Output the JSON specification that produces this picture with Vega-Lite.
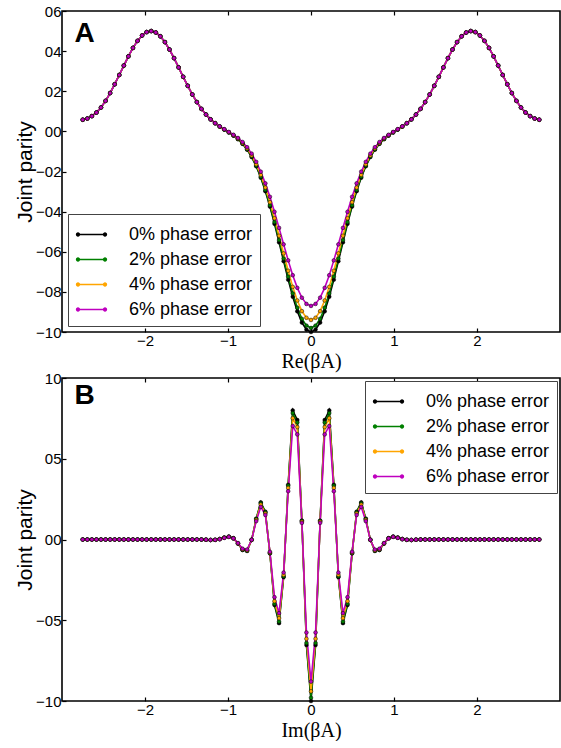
{
  "$schema": "https://vega.github.io/schema/vega-lite/v6.json",
  "background": "white",
  "padding": {"left": 13, "top": 3, "right": 0, "bottom": 0},
  "autosize": {"type": "pad"},
  "bounds": "flush",
  "spacing": 46,
  "resolve": {"legend": {"color": "independent"}},
  "datasets": {
    "A": [
      {"x":-2.75,"p0":0.058,"p2":0.058,"p4":0.058,"p6":0.058},
      {"x":-2.695,"p0":0.064,"p2":0.064,"p4":0.064,"p6":0.064},
      {"x":-2.64,"p0":0.076,"p2":0.076,"p4":0.076,"p6":0.076},
      {"x":-2.585,"p0":0.094,"p2":0.094,"p4":0.094,"p6":0.094},
      {"x":-2.53,"p0":0.119,"p2":0.119,"p4":0.119,"p6":0.119},
      {"x":-2.475,"p0":0.152,"p2":0.152,"p4":0.152,"p6":0.152},
      {"x":-2.42,"p0":0.191,"p2":0.191,"p4":0.191,"p6":0.191},
      {"x":-2.365,"p0":0.235,"p2":0.235,"p4":0.235,"p6":0.235},
      {"x":-2.31,"p0":0.281,"p2":0.281,"p4":0.281,"p6":0.281},
      {"x":-2.255,"p0":0.328,"p2":0.328,"p4":0.328,"p6":0.328},
      {"x":-2.2,"p0":0.374,"p2":0.374,"p4":0.374,"p6":0.374},
      {"x":-2.145,"p0":0.416,"p2":0.416,"p4":0.416,"p6":0.416},
      {"x":-2.09,"p0":0.451,"p2":0.451,"p4":0.451,"p6":0.451},
      {"x":-2.035,"p0":0.478,"p2":0.478,"p4":0.478,"p6":0.478},
      {"x":-1.98,"p0":0.495,"p2":0.495,"p4":0.495,"p6":0.495},
      {"x":-1.925,"p0":0.5,"p2":0.5,"p4":0.5,"p6":0.5},
      {"x":-1.87,"p0":0.493,"p2":0.493,"p4":0.493,"p6":0.493},
      {"x":-1.815,"p0":0.474,"p2":0.474,"p4":0.474,"p6":0.474},
      {"x":-1.76,"p0":0.445,"p2":0.445,"p4":0.445,"p6":0.445},
      {"x":-1.705,"p0":0.408,"p2":0.408,"p4":0.408,"p6":0.408},
      {"x":-1.65,"p0":0.365,"p2":0.365,"p4":0.365,"p6":0.365},
      {"x":-1.595,"p0":0.319,"p2":0.319,"p4":0.319,"p6":0.319},
      {"x":-1.54,"p0":0.272,"p2":0.272,"p4":0.272,"p6":0.272},
      {"x":-1.485,"p0":0.227,"p2":0.227,"p4":0.227,"p6":0.227},
      {"x":-1.43,"p0":0.184,"p2":0.184,"p4":0.184,"p6":0.184},
      {"x":-1.375,"p0":0.146,"p2":0.146,"p4":0.146,"p6":0.146},
      {"x":-1.32,"p0":0.112,"p2":0.112,"p4":0.112,"p6":0.112},
      {"x":-1.265,"p0":0.084,"p2":0.084,"p4":0.084,"p6":0.084},
      {"x":-1.21,"p0":0.06,"p2":0.06,"p4":0.06,"p6":0.06},
      {"x":-1.155,"p0":0.04,"p2":0.041,"p4":0.041,"p6":0.041},
      {"x":-1.1,"p0":0.024,"p2":0.024,"p4":0.024,"p6":0.025},
      {"x":-1.045,"p0":0.009,"p2":0.009,"p4":0.01,"p6":0.011},
      {"x":-0.99,"p0":-0.005,"p2":-0.005,"p4":-0.004,"p6":-0.003},
      {"x":-0.935,"p0":-0.021,"p2":-0.02,"p4":-0.019,"p6":-0.017},
      {"x":-0.88,"p0":-0.039,"p2":-0.038,"p4":-0.036,"p6":-0.033},
      {"x":-0.825,"p0":-0.062,"p2":-0.061,"p4":-0.058,"p6":-0.053},
      {"x":-0.77,"p0":-0.091,"p2":-0.089,"p4":-0.085,"p6":-0.079},
      {"x":-0.715,"p0":-0.128,"p2":-0.125,"p4":-0.12,"p6":-0.111},
      {"x":-0.66,"p0":-0.174,"p2":-0.171,"p4":-0.164,"p6":-0.152},
      {"x":-0.605,"p0":-0.231,"p2":-0.226,"p4":-0.217,"p6":-0.201},
      {"x":-0.55,"p0":-0.298,"p2":-0.292,"p4":-0.28,"p6":-0.259},
      {"x":-0.495,"p0":-0.375,"p2":-0.368,"p4":-0.353,"p6":-0.326},
      {"x":-0.44,"p0":-0.461,"p2":-0.452,"p4":-0.433,"p6":-0.401},
      {"x":-0.385,"p0":-0.553,"p2":-0.542,"p4":-0.52,"p6":-0.481},
      {"x":-0.33,"p0":-0.647,"p2":-0.634,"p4":-0.608,"p6":-0.563},
      {"x":-0.275,"p0":-0.739,"p2":-0.724,"p4":-0.695,"p6":-0.643},
      {"x":-0.22,"p0":-0.824,"p2":-0.808,"p4":-0.775,"p6":-0.717},
      {"x":-0.165,"p0":-0.897,"p2":-0.879,"p4":-0.843,"p6":-0.78},
      {"x":-0.11,"p0":-0.953,"p2":-0.934,"p4":-0.896,"p6":-0.829},
      {"x":-0.055,"p0":-0.988,"p2":-0.968,"p4":-0.929,"p6":-0.86},
      {"x":0,"p0":-1,"p2":-0.98,"p4":-0.94,"p6":-0.87},
      {"x":0.055,"p0":-0.988,"p2":-0.968,"p4":-0.929,"p6":-0.86},
      {"x":0.11,"p0":-0.953,"p2":-0.934,"p4":-0.896,"p6":-0.829},
      {"x":0.165,"p0":-0.897,"p2":-0.879,"p4":-0.843,"p6":-0.78},
      {"x":0.22,"p0":-0.824,"p2":-0.808,"p4":-0.775,"p6":-0.717},
      {"x":0.275,"p0":-0.739,"p2":-0.724,"p4":-0.695,"p6":-0.643},
      {"x":0.33,"p0":-0.647,"p2":-0.634,"p4":-0.608,"p6":-0.563},
      {"x":0.385,"p0":-0.553,"p2":-0.542,"p4":-0.52,"p6":-0.481},
      {"x":0.44,"p0":-0.461,"p2":-0.452,"p4":-0.433,"p6":-0.401},
      {"x":0.495,"p0":-0.375,"p2":-0.368,"p4":-0.353,"p6":-0.326},
      {"x":0.55,"p0":-0.298,"p2":-0.292,"p4":-0.28,"p6":-0.259},
      {"x":0.605,"p0":-0.231,"p2":-0.226,"p4":-0.217,"p6":-0.201},
      {"x":0.66,"p0":-0.174,"p2":-0.171,"p4":-0.164,"p6":-0.152},
      {"x":0.715,"p0":-0.128,"p2":-0.125,"p4":-0.12,"p6":-0.111},
      {"x":0.77,"p0":-0.091,"p2":-0.089,"p4":-0.085,"p6":-0.079},
      {"x":0.825,"p0":-0.062,"p2":-0.061,"p4":-0.058,"p6":-0.053},
      {"x":0.88,"p0":-0.039,"p2":-0.038,"p4":-0.036,"p6":-0.033},
      {"x":0.935,"p0":-0.021,"p2":-0.02,"p4":-0.019,"p6":-0.017},
      {"x":0.99,"p0":-0.005,"p2":-0.005,"p4":-0.004,"p6":-0.003},
      {"x":1.045,"p0":0.009,"p2":0.009,"p4":0.01,"p6":0.011},
      {"x":1.1,"p0":0.024,"p2":0.024,"p4":0.024,"p6":0.025},
      {"x":1.155,"p0":0.04,"p2":0.041,"p4":0.041,"p6":0.041},
      {"x":1.21,"p0":0.06,"p2":0.06,"p4":0.06,"p6":0.06},
      {"x":1.265,"p0":0.084,"p2":0.084,"p4":0.084,"p6":0.084},
      {"x":1.32,"p0":0.112,"p2":0.112,"p4":0.112,"p6":0.112},
      {"x":1.375,"p0":0.146,"p2":0.146,"p4":0.146,"p6":0.146},
      {"x":1.43,"p0":0.184,"p2":0.184,"p4":0.184,"p6":0.184},
      {"x":1.485,"p0":0.227,"p2":0.227,"p4":0.227,"p6":0.227},
      {"x":1.54,"p0":0.272,"p2":0.272,"p4":0.272,"p6":0.272},
      {"x":1.595,"p0":0.319,"p2":0.319,"p4":0.319,"p6":0.319},
      {"x":1.65,"p0":0.365,"p2":0.365,"p4":0.365,"p6":0.365},
      {"x":1.705,"p0":0.408,"p2":0.408,"p4":0.408,"p6":0.408},
      {"x":1.76,"p0":0.445,"p2":0.445,"p4":0.445,"p6":0.445},
      {"x":1.815,"p0":0.474,"p2":0.474,"p4":0.474,"p6":0.474},
      {"x":1.87,"p0":0.493,"p2":0.493,"p4":0.493,"p6":0.493},
      {"x":1.925,"p0":0.5,"p2":0.5,"p4":0.5,"p6":0.5},
      {"x":1.98,"p0":0.495,"p2":0.495,"p4":0.495,"p6":0.495},
      {"x":2.035,"p0":0.478,"p2":0.478,"p4":0.478,"p6":0.478},
      {"x":2.09,"p0":0.451,"p2":0.451,"p4":0.451,"p6":0.451},
      {"x":2.145,"p0":0.416,"p2":0.416,"p4":0.416,"p6":0.416},
      {"x":2.2,"p0":0.374,"p2":0.374,"p4":0.374,"p6":0.374},
      {"x":2.255,"p0":0.328,"p2":0.328,"p4":0.328,"p6":0.328},
      {"x":2.31,"p0":0.281,"p2":0.281,"p4":0.281,"p6":0.281},
      {"x":2.365,"p0":0.235,"p2":0.235,"p4":0.235,"p6":0.235},
      {"x":2.42,"p0":0.191,"p2":0.191,"p4":0.191,"p6":0.191},
      {"x":2.475,"p0":0.152,"p2":0.152,"p4":0.152,"p6":0.152},
      {"x":2.53,"p0":0.119,"p2":0.119,"p4":0.119,"p6":0.119},
      {"x":2.585,"p0":0.094,"p2":0.094,"p4":0.094,"p6":0.094},
      {"x":2.64,"p0":0.076,"p2":0.076,"p4":0.076,"p6":0.076},
      {"x":2.695,"p0":0.064,"p2":0.064,"p4":0.064,"p6":0.064},
      {"x":2.75,"p0":0.058,"p2":0.058,"p4":0.058,"p6":0.058}
    ],
    "B": [
      {"x":-2.75,"p0":0,"p2":0,"p4":0,"p6":0},
      {"x":-2.695,"p0":0,"p2":0,"p4":0,"p6":0},
      {"x":-2.64,"p0":0,"p2":0,"p4":0,"p6":0},
      {"x":-2.585,"p0":0,"p2":0,"p4":0,"p6":0},
      {"x":-2.53,"p0":0,"p2":0,"p4":0,"p6":0},
      {"x":-2.475,"p0":0,"p2":0,"p4":0,"p6":0},
      {"x":-2.42,"p0":0,"p2":0,"p4":0,"p6":0},
      {"x":-2.365,"p0":0,"p2":0,"p4":0,"p6":0},
      {"x":-2.31,"p0":0,"p2":0,"p4":0,"p6":0},
      {"x":-2.255,"p0":0,"p2":0,"p4":0,"p6":0},
      {"x":-2.2,"p0":0,"p2":0,"p4":0,"p6":0},
      {"x":-2.145,"p0":0,"p2":0,"p4":0,"p6":0},
      {"x":-2.09,"p0":0,"p2":0,"p4":0,"p6":0},
      {"x":-2.035,"p0":0,"p2":0,"p4":0,"p6":0},
      {"x":-1.98,"p0":0,"p2":0,"p4":0,"p6":0},
      {"x":-1.925,"p0":0,"p2":0,"p4":0,"p6":0},
      {"x":-1.87,"p0":0,"p2":0,"p4":0,"p6":0},
      {"x":-1.815,"p0":0,"p2":0,"p4":0,"p6":0},
      {"x":-1.76,"p0":0,"p2":0,"p4":0,"p6":0},
      {"x":-1.705,"p0":0,"p2":0,"p4":0,"p6":0},
      {"x":-1.65,"p0":0,"p2":0,"p4":0,"p6":0},
      {"x":-1.595,"p0":0,"p2":0,"p4":0,"p6":0},
      {"x":-1.54,"p0":0,"p2":0,"p4":0,"p6":0},
      {"x":-1.485,"p0":0,"p2":0,"p4":0,"p6":0},
      {"x":-1.43,"p0":0,"p2":0,"p4":0,"p6":0},
      {"x":-1.375,"p0":0,"p2":0,"p4":0,"p6":0},
      {"x":-1.32,"p0":0,"p2":0,"p4":0,"p6":0},
      {"x":-1.265,"p0":-0.001,"p2":-0.001,"p4":-0.001,"p6":-0.001},
      {"x":-1.21,"p0":-0.003,"p2":-0.003,"p4":-0.003,"p6":-0.003},
      {"x":-1.155,"p0":-0.002,"p2":-0.002,"p4":-0.002,"p6":-0.002},
      {"x":-1.1,"p0":0.003,"p2":0.003,"p4":0.002,"p6":0.002},
      {"x":-1.045,"p0":0.012,"p2":0.012,"p4":0.011,"p6":0.01},
      {"x":-0.99,"p0":0.018,"p2":0.017,"p4":0.017,"p6":0.016},
      {"x":-0.935,"p0":0.008,"p2":0.008,"p4":0.007,"p6":0.007},
      {"x":-0.88,"p0":-0.025,"p2":-0.025,"p4":-0.024,"p6":-0.022},
      {"x":-0.825,"p0":-0.065,"p2":-0.064,"p4":-0.061,"p6":-0.057},
      {"x":-0.77,"p0":-0.071,"p2":-0.069,"p4":-0.067,"p6":-0.062},
      {"x":-0.715,"p0":-0.002,"p2":-0.002,"p4":-0.002,"p6":-0.002},
      {"x":-0.66,"p0":0.129,"p2":0.127,"p4":0.122,"p6":0.114},
      {"x":-0.605,"p0":0.23,"p2":0.225,"p4":0.216,"p6":0.202},
      {"x":-0.55,"p0":0.172,"p2":0.169,"p4":0.162,"p6":0.152},
      {"x":-0.495,"p0":-0.086,"p2":-0.084,"p4":-0.081,"p6":-0.076},
      {"x":-0.44,"p0":-0.406,"p2":-0.398,"p4":-0.382,"p6":-0.357},
      {"x":-0.385,"p0":-0.518,"p2":-0.508,"p4":-0.487,"p6":-0.456},
      {"x":-0.33,"p0":-0.233,"p2":-0.228,"p4":-0.219,"p6":-0.205},
      {"x":-0.275,"p0":0.339,"p2":0.333,"p4":0.319,"p6":0.299},
      {"x":-0.22,"p0":0.799,"p2":0.783,"p4":0.751,"p6":0.703},
      {"x":-0.165,"p0":0.74,"p2":0.725,"p4":0.696,"p6":0.651},
      {"x":-0.11,"p0":0.117,"p2":0.115,"p4":0.11,"p6":0.103},
      {"x":-0.055,"p0":-0.654,"p2":-0.641,"p4":-0.615,"p6":-0.576},
      {"x":0,"p0":-1,"p2":-0.98,"p4":-0.94,"p6":-0.88},
      {"x":0.055,"p0":-0.654,"p2":-0.641,"p4":-0.615,"p6":-0.576},
      {"x":0.11,"p0":0.117,"p2":0.115,"p4":0.11,"p6":0.103},
      {"x":0.165,"p0":0.74,"p2":0.725,"p4":0.696,"p6":0.651},
      {"x":0.22,"p0":0.799,"p2":0.783,"p4":0.751,"p6":0.703},
      {"x":0.275,"p0":0.339,"p2":0.333,"p4":0.319,"p6":0.299},
      {"x":0.33,"p0":-0.233,"p2":-0.228,"p4":-0.219,"p6":-0.205},
      {"x":0.385,"p0":-0.518,"p2":-0.508,"p4":-0.487,"p6":-0.456},
      {"x":0.44,"p0":-0.406,"p2":-0.398,"p4":-0.382,"p6":-0.357},
      {"x":0.495,"p0":-0.086,"p2":-0.084,"p4":-0.081,"p6":-0.076},
      {"x":0.55,"p0":0.172,"p2":0.169,"p4":0.162,"p6":0.152},
      {"x":0.605,"p0":0.23,"p2":0.225,"p4":0.216,"p6":0.202},
      {"x":0.66,"p0":0.129,"p2":0.127,"p4":0.122,"p6":0.114},
      {"x":0.715,"p0":-0.002,"p2":-0.002,"p4":-0.002,"p6":-0.002},
      {"x":0.77,"p0":-0.071,"p2":-0.069,"p4":-0.067,"p6":-0.062},
      {"x":0.825,"p0":-0.065,"p2":-0.064,"p4":-0.061,"p6":-0.057},
      {"x":0.88,"p0":-0.025,"p2":-0.025,"p4":-0.024,"p6":-0.022},
      {"x":0.935,"p0":0.008,"p2":0.008,"p4":0.007,"p6":0.007},
      {"x":0.99,"p0":0.018,"p2":0.017,"p4":0.017,"p6":0.016},
      {"x":1.045,"p0":0.012,"p2":0.012,"p4":0.011,"p6":0.01},
      {"x":1.1,"p0":0.003,"p2":0.003,"p4":0.002,"p6":0.002},
      {"x":1.155,"p0":-0.002,"p2":-0.002,"p4":-0.002,"p6":-0.002},
      {"x":1.21,"p0":-0.003,"p2":-0.003,"p4":-0.003,"p6":-0.003},
      {"x":1.265,"p0":-0.001,"p2":-0.001,"p4":-0.001,"p6":-0.001},
      {"x":1.32,"p0":0,"p2":0,"p4":0,"p6":0},
      {"x":1.375,"p0":0,"p2":0,"p4":0,"p6":0},
      {"x":1.43,"p0":0,"p2":0,"p4":0,"p6":0},
      {"x":1.485,"p0":0,"p2":0,"p4":0,"p6":0},
      {"x":1.54,"p0":0,"p2":0,"p4":0,"p6":0},
      {"x":1.595,"p0":0,"p2":0,"p4":0,"p6":0},
      {"x":1.65,"p0":0,"p2":0,"p4":0,"p6":0},
      {"x":1.705,"p0":0,"p2":0,"p4":0,"p6":0},
      {"x":1.76,"p0":0,"p2":0,"p4":0,"p6":0},
      {"x":1.815,"p0":0,"p2":0,"p4":0,"p6":0},
      {"x":1.87,"p0":0,"p2":0,"p4":0,"p6":0},
      {"x":1.925,"p0":0,"p2":0,"p4":0,"p6":0},
      {"x":1.98,"p0":0,"p2":0,"p4":0,"p6":0},
      {"x":2.035,"p0":0,"p2":0,"p4":0,"p6":0},
      {"x":2.09,"p0":0,"p2":0,"p4":0,"p6":0},
      {"x":2.145,"p0":0,"p2":0,"p4":0,"p6":0},
      {"x":2.2,"p0":0,"p2":0,"p4":0,"p6":0},
      {"x":2.255,"p0":0,"p2":0,"p4":0,"p6":0},
      {"x":2.31,"p0":0,"p2":0,"p4":0,"p6":0},
      {"x":2.365,"p0":0,"p2":0,"p4":0,"p6":0},
      {"x":2.42,"p0":0,"p2":0,"p4":0,"p6":0},
      {"x":2.475,"p0":0,"p2":0,"p4":0,"p6":0},
      {"x":2.53,"p0":0,"p2":0,"p4":0,"p6":0},
      {"x":2.585,"p0":0,"p2":0,"p4":0,"p6":0},
      {"x":2.64,"p0":0,"p2":0,"p4":0,"p6":0},
      {"x":2.695,"p0":0,"p2":0,"p4":0,"p6":0},
      {"x":2.75,"p0":0,"p2":0,"p4":0,"p6":0}
    ]
  },
  "vconcat": [
    {
      "width": 498,
      "height": 321,
      "resolve": {"axis": {"x": "independent"}},
      "layer": [
        {
          "data": {"name": "A"},
          "transform": [{"fold": ["p0", "p2", "p4", "p6"], "as": ["s", "y"]}],
          "mark": {"type": "line", "strokeWidth": 1.6},
          "encoding": {
            "x": {"field": "x", "type": "quantitative", "scale": {"domain": [-3, 3], "nice": false, "zero": false},
                  "axis": {"values": [-2, -1, 0, 1, 2], "format": "d", "title": "Re(βA)"}},
            "y": {"field": "y", "type": "quantitative", "scale": {"domain": [-1, 0.6], "nice": false, "zero": false},
                  "axis": {"values": [-1, -0.8, -0.6, -0.4, -0.2, 0, 0.2, 0.4, 0.6], "labelExpr": "replace(format(datum.value, '.1f'), '.', '')", "title": "Joint parity"}},
            "color": {"field": "s", "type": "nominal",
                      "scale": {"domain": ["p0", "p2", "p4", "p6"], "range": ["#000000", "#008000", "#ffa500", "#bf00bf"]},
                      "legend": {"orient": "bottom-left", "offset": 6, "labelExpr": "replace(datum.value, 'p', '') + '% phase error'"}}
          }
        },
        {
          "data": {"name": "A"},
          "transform": [{"fold": ["p0", "p2", "p4", "p6"], "as": ["s", "y"]}],
          "mark": {"type": "point", "filled": true, "size": 14, "stroke": "#000000", "strokeWidth": 0.5, "opacity": 1},
          "encoding": {
            "x": {"field": "x", "type": "quantitative", "axis": null},
            "y": {"field": "y", "type": "quantitative"},
            "color": {"field": "s", "type": "nominal"}
          }
        },
        {
          "data": {"values": [{}]},
          "mark": {"type": "text", "text": "A", "fontSize": 28, "fontWeight": "bold", "font": "Liberation Sans", "align": "left", "baseline": "alphabetic", "color": "black"},
          "encoding": {
            "x": {"datum": -2.85, "type": "quantitative", "axis": {"orient": "top", "values": [-2, -1, 0, 1, 2], "labels": false, "title": null}},
            "y": {"datum": 0.445, "type": "quantitative"}
          }
        }
      ]
    },
    {
      "width": 498,
      "height": 323,
      "resolve": {"axis": {"x": "independent"}},
      "layer": [
        {
          "data": {"name": "B"},
          "transform": [{"fold": ["p0", "p2", "p4", "p6"], "as": ["s", "y"]}],
          "mark": {"type": "line", "strokeWidth": 1.6},
          "encoding": {
            "x": {"field": "x", "type": "quantitative", "scale": {"domain": [-3, 3], "nice": false, "zero": false},
                  "axis": {"values": [-2, -1, 0, 1, 2], "format": "d", "title": "Im(βA)"}},
            "y": {"field": "y", "type": "quantitative", "scale": {"domain": [-1, 1], "nice": false, "zero": false},
                  "axis": {"values": [-1, -0.5, 0, 0.5, 1], "labelExpr": "replace(format(datum.value, '.1f'), '.', '')", "title": "Joint parity"}},
            "color": {"field": "s", "type": "nominal",
                      "scale": {"domain": ["p0", "p2", "p4", "p6"], "range": ["#000000", "#008000", "#ffa500", "#bf00bf"]},
                      "legend": {"orient": "top-right", "offset": 3, "labelExpr": "replace(datum.value, 'p', '') + '% phase error'"}}
          }
        },
        {
          "data": {"name": "B"},
          "transform": [{"fold": ["p0", "p2", "p4", "p6"], "as": ["s", "y"]}],
          "mark": {"type": "point", "filled": true, "size": 14, "stroke": "#000000", "strokeWidth": 0.5, "opacity": 1},
          "encoding": {
            "x": {"field": "x", "type": "quantitative", "axis": null},
            "y": {"field": "y", "type": "quantitative"},
            "color": {"field": "s", "type": "nominal"}
          }
        },
        {
          "data": {"values": [{}]},
          "mark": {"type": "text", "text": "B", "fontSize": 28, "fontWeight": "bold", "font": "Liberation Sans", "align": "left", "baseline": "alphabetic", "color": "black"},
          "encoding": {
            "x": {"datum": -2.85, "type": "quantitative", "axis": {"orient": "top", "values": [-2, -1, 0, 1, 2], "labels": false, "title": null}},
            "y": {"datum": 0.842, "type": "quantitative"}
          }
        }
      ]
    }
  ],
  "config": {
    "view": {"stroke": "#000000", "strokeWidth": 1.6},
    "axis": {
      "domain": false, "grid": false, "ticks": true, "tickColor": "#000000", "tickSize": -4, "tickWidth": 1.2,
      "labelFont": "Liberation Sans", "labelFontSize": 15, "labelColor": "#000000", "labelPadding": 5,
      "titleColor": "#000000", "titleFontWeight": "normal"
    },
    "axisX": {"titleFont": "Liberation Serif", "titleFontSize": 20, "titlePadding": 3},
    "axisY": {"titleFont": "Liberation Sans", "titleFontSize": 21, "titlePadding": 0},
    "legend": {
      "title": null,
      "labelFont": "Liberation Sans", "labelFontSize": 18, "labelColor": "#000000",
      "labelOffset": 24, "rowPadding": 2, "padding": 7, "symbolOffset": 3,
      "strokeColor": "#444444", "fillColor": "#ffffff", "cornerRadius": 0,
      "symbolType": "M-1,-0.06L1,-0.06L1,0.06L-1,0.06Z M-0.84,0A0.16,0.16,0,1,1,-1.16,0A0.16,0.16,0,1,1,-0.84,0Z M1.16,0A0.16,0.16,0,1,1,0.84,0A0.16,0.16,0,1,1,1.16,0Z",
      "symbolSize": 729, "symbolStrokeWidth": 0, "symbolOpacity": 1
    }
  }
}
